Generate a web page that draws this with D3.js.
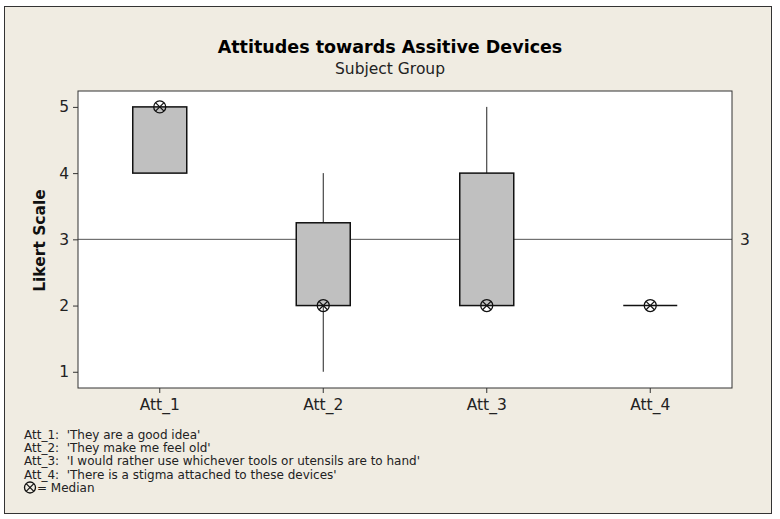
<!DOCTYPE html>
<html>
<head>
<meta charset="utf-8">
<script src="https://cdn.jsdelivr.net/npm/d3@7"></script>
<style>
  body { margin: 0; background: #fff; }
  svg { display: block; font-family: "DejaVu Sans", sans-serif; }
</style>
</head>
<body>
<svg width="780" height="519"></svg>
<script>
// data
var categories = ["Att_1", "Att_2", "Att_3", "Att_4"];
var mins    = [4, 1, 2, 2];
var q1s     = [4, 2, 2, 2];
var medians = [5, 2, 2, 2];
var q3s     = [5, 3.25, 4, 2];
var maxs    = [5, 4, 5, 2];
var yTicks = [1, 2, 3, 4, 5];
var refValue = 3;
var notes = [
  "Att_1:\u00a0 'They are a good idea'",
  "Att_2:\u00a0 'They make me feel old'",
  "Att_3:\u00a0 'I would rather use whichever tools or utensils are to hand'",
  "Att_4:\u00a0 'There is a stigma attached to these devices'"
];

var svg = d3.select("svg"),
    W = 780, H = 519,
    pL = 78, pR = 732, pT = 91, pB = 388;

// outer panel
svg.append("rect").attr("x", 0).attr("y", 0).attr("width", W).attr("height", H).attr("fill", "#fff");
svg.append("rect").attr("x", 4.5).attr("y", 6.5).attr("width", 767).attr("height", 507)
    .attr("fill", "#f0ece2").attr("stroke", "#333").attr("stroke-width", 1);

var x = d3.scaleBand().domain(categories).range([pL, pR]);
var y = d3.scaleLinear().domain([0.755, 5.24]).range([pB, pT]);

// plot area
svg.append("rect").attr("x", pL).attr("y", pT).attr("width", pR - pL).attr("height", pB - pT)
    .attr("fill", "#fff");

// reference line
svg.append("line").attr("x1", pL).attr("x2", pR)
    .attr("y1", y(refValue)).attr("y2", y(refValue))
    .attr("stroke", "#555").attr("stroke-width", 1);
svg.append("text").attr("x", pR + 8).attr("y", y(refValue)).attr("dy", "0.36em")
    .attr("font-size", 15.5).attr("fill", "#222").text(refValue);

var data = categories.map(function(c, i) {
  return { name: c, min: mins[i], q1: q1s[i], med: medians[i], q3: q3s[i], max: maxs[i] };
});

var boxW = 54;
var g = svg.selectAll("g.box").data(data).enter().append("g").attr("class", "box")
    .attr("transform", function(d) { return "translate(" + (x(d.name) + x.bandwidth() / 2) + ",0)"; });

// whiskers
g.append("line").attr("x1", 0).attr("x2", 0)
    .attr("y1", function(d) { return y(d.max); }).attr("y2", function(d) { return y(d.q3); })
    .attr("stroke", "#222").attr("stroke-width", 1);
g.append("line").attr("x1", 0).attr("x2", 0)
    .attr("y1", function(d) { return y(d.q1); }).attr("y2", function(d) { return y(d.min); })
    .attr("stroke", "#222").attr("stroke-width", 1);

// boxes (a flat line where the box has no height)
g.filter(function(d) { return d.q3 > d.q1; }).append("rect")
    .attr("x", -boxW / 2).attr("width", boxW)
    .attr("y", function(d) { return y(d.q3); })
    .attr("height", function(d) { return y(d.q1) - y(d.q3); })
    .attr("fill", "#c0c0c0").attr("stroke", "#111").attr("stroke-width", 1.5);
g.filter(function(d) { return d.q3 <= d.q1; }).append("line")
    .attr("x1", -boxW / 2).attr("x2", boxW / 2)
    .attr("y1", function(d) { return y(d.q1); }).attr("y2", function(d) { return y(d.q1); })
    .attr("stroke", "#111").attr("stroke-width", 1.5);

// median symbols
function medianSymbol(sel, r) {
  r = r || 6;
  sel.append("circle").attr("r", r).attr("fill", "none").attr("stroke", "#111").attr("stroke-width", 1.3);
  var k = r * Math.SQRT1_2;
  sel.append("line").attr("x1", -k).attr("y1", -k).attr("x2", k).attr("y2", k).attr("stroke", "#111").attr("stroke-width", 1.2);
  sel.append("line").attr("x1", -k).attr("y1", k).attr("x2", k).attr("y2", -k).attr("stroke", "#111").attr("stroke-width", 1.2);
}
g.append("g").attr("transform", function(d) { return "translate(0," + y(d.med) + ")"; })
    .call(medianSymbol, 6);

// plot border
svg.append("rect").attr("x", pL).attr("y", pT).attr("width", pR - pL).attr("height", pB - pT)
    .attr("fill", "none").attr("stroke", "#333").attr("stroke-width", 1);

// axes
var yAxis = d3.axisLeft(y).tickValues(yTicks).tickFormat(d3.format("d")).tickSize(5).tickPadding(4);
var ya = svg.append("g").attr("transform", "translate(" + pL + ",0)").call(yAxis);
var xAxis = d3.axisBottom(x).tickSize(5).tickPadding(6);
var xa = svg.append("g").attr("transform", "translate(0," + pB + ")").call(xAxis);
[ya, xa].forEach(function(a) {
  a.select(".domain").remove();
  a.selectAll(".tick line").attr("stroke", "#333");
  a.selectAll(".tick text").attr("font-size", 15.5).attr("fill", "#222")
      .attr("font-family", "'DejaVu Sans', sans-serif");
});

// titles
svg.append("text").attr("x", 390).attr("y", 53).attr("text-anchor", "middle")
    .attr("font-size", 17.5).attr("font-weight", "bold").attr("fill", "#000")
    .text("Attitudes towards Assitive Devices");
svg.append("text").attr("x", 390).attr("y", 74).attr("text-anchor", "middle")
    .attr("font-size", 15.5).attr("fill", "#222").text("Subject Group");
svg.append("text").attr("transform", "translate(45," + ((pT + pB) / 2 + 1) + ") rotate(-90)")
    .attr("text-anchor", "middle").attr("font-size", 15.5).attr("font-weight", "bold").attr("fill", "#111")
    .text("Likert Scale");

// footnotes
svg.selectAll("text.note").data(notes).enter().append("text").attr("class", "note")
    .attr("x", 24).attr("y", function(d, i) { return 438.5 + i * 13.4; })
    .attr("font-size", 12).attr("fill", "#222").text(function(d) { return d; });
var leg = svg.append("g").attr("transform", "translate(30,487.5)");
leg.call(medianSymbol, 5.5);
svg.append("text").attr("x", 37).attr("y", 492).attr("font-size", 12).attr("fill", "#222").text("= Median");
</script>
</body>
</html>
